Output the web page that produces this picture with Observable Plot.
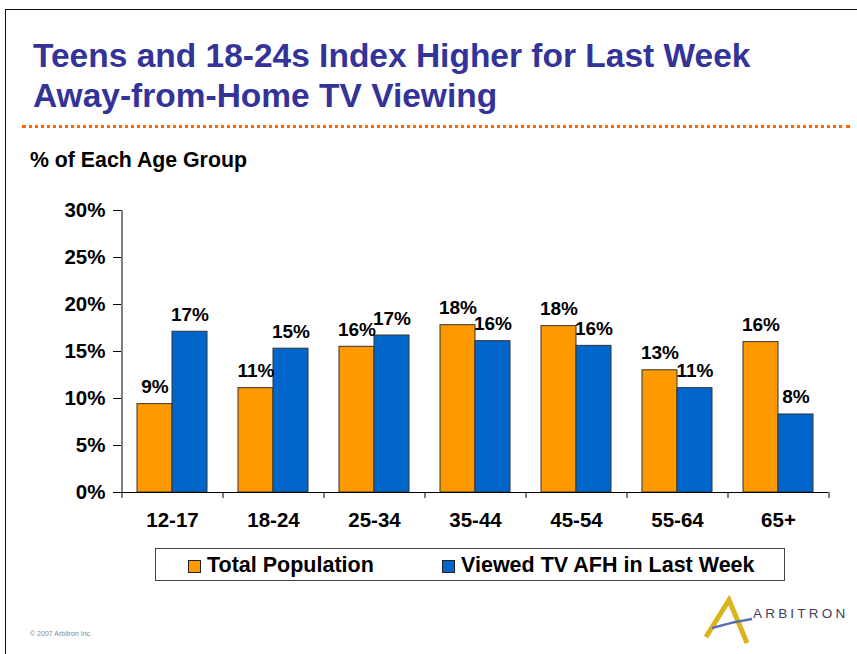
<!DOCTYPE html>
<html>
<head>
<meta charset="utf-8">
<script src="https://cdn.jsdelivr.net/npm/d3@7"></script>
<script src="https://cdn.jsdelivr.net/npm/@observablehq/plot@0.6"></script>
<style>
  html, body { margin: 0; padding: 0; background: #fff; }
  body { width: 857px; height: 654px; position: relative; overflow: hidden; font-family: "Liberation Sans", Arial, sans-serif; }
  .abs { position: absolute; white-space: nowrap; }
  #frame { left: 5px; top: 9px; width: 900px; height: 700px; border-top: 1.5px solid #111; border-left: 1.5px solid #111; }
  .title { left: 33px; font-size: 33.5px; font-weight: bold; color: #333399; line-height: 1; }
  #dots { left: 22px; top: 125px; width: 828px; height: 0; border-top: 3px dotted #ff6600; }
  #subtitle { left: 30px; top: 148px; font-size: 21.3px; font-weight: bold; color: #000; }
  #chart { left: 0; top: 190px; }
  #legend { left: 155px; top: 548px; width: 628px; height: 31px; border: 1px solid #444; }
  .sw { position: absolute; top: 11px; width: 11px; height: 11px; border: 1px solid #222; }
  .lt { position: absolute; top: 4px; font-size: 21.5px; font-weight: bold; color: #000; }
  #copy { left: 30px; top: 630px; font-size: 7px; color: #888; }
  #logo { left: 700px; top: 595px; }
</style>
</head>
<body>
<div id="frame" class="abs"></div>
<div class="abs title" style="top:39px">Teens and 18-24s Index Higher for Last Week</div>
<div class="abs title" style="top:79px">Away-from-Home TV Viewing</div>
<div id="dots" class="abs"></div>
<div id="subtitle" class="abs">% of Each Age Group</div>
<div id="chart" class="abs"></div>
<div id="legend" class="abs"></div>
<div id="copy" class="abs">© 2007 Arbitron Inc.</div>
<svg id="logo" class="abs" width="157" height="55" viewBox="0 0 157 55">
  <path d="M6 42 L29 5 L47 48" fill="none" stroke="#d9b41c" stroke-width="5" stroke-linejoin="miter"/>
  <path d="M12 33 C25 29 38 26 52 24" fill="none" stroke="#5a6fb0" stroke-width="2.5"/>
  <text x="53" y="23" font-family="Liberation Sans, Arial, sans-serif" font-size="13.5" letter-spacing="3.2" fill="#3f4060">ARBITRON</text>
</svg>
<script>
// ---- data ----
const categories = ["12-17", "18-24", "25-34", "35-44", "45-54", "55-64", "65+"];
const totalPopulation = [9.4, 11.1, 15.5, 17.8, 17.7, 13.0, 16.0];
const viewedAFH = [17.1, 15.3, 16.7, 16.1, 15.6, 11.1, 8.3];
const totalLabels = ["9%", "11%", "16%", "18%", "18%", "13%", "16%"];
const viewedLabels = ["17%", "15%", "17%", "16%", "16%", "11%", "8%"];
const yTicks = [0, 5, 10, 15, 20, 25, 30];
const seriesNames = ["Total Population", "Viewed TV AFH in Last Week"];
const seriesColors = ["#ff9900", "#0066cc"];

const rows = categories.map((c, i) => ({
  cat: c, total: totalPopulation[i], viewed: viewedAFH[i],
  tl: totalLabels[i], vl: viewedLabels[i]
}));

const W = 857, H = 350, mL = 121, mR = 29;
const step = (W - mL - mR) / categories.length;
const half = step / 2;
const bw = step * 0.693;
const barHalf = bw / 2;
const tickLen = 6 / ((H - 20 - 48) / 30); // 6px in data units

const plot = Plot.plot({
  width: W, height: H,
  marginLeft: mL, marginRight: mR, marginTop: 20, marginBottom: 48,
  style: { fontFamily: "Liberation Sans, Arial, sans-serif", fontWeight: "bold", fontSize: "20.5px", color: "#000", background: "transparent", overflow: "visible" },
  x: { type: "band", domain: categories, paddingInner: 0.307, paddingOuter: 0.153, label: null },
  y: { domain: [0, 30], label: null },
  marks: [
    Plot.barY(rows, { x: "cat", y: "total", insetRight: barHalf, fill: seriesColors[0], stroke: "#333", strokeWidth: 1 }),
    Plot.barY(rows, { x: "cat", y: "viewed", insetLeft: barHalf, fill: seriesColors[1], stroke: "#333", strokeWidth: 1 }),
    Plot.text(rows, { x: "cat", y: "total", text: "tl", dx: -barHalf / 2, dy: -11, lineAnchor: "bottom", fontSize: 19, fontWeight: "bold", fill: "#000" }),
    Plot.text(rows, { x: "cat", y: "viewed", text: "vl", dx: barHalf / 2, dy: -11, lineAnchor: "bottom", fontSize: 19, fontWeight: "bold", fill: "#000" }),
    // axis lines
    Plot.ruleY([0], { stroke: "#000", strokeWidth: 1 }),
    Plot.ruleX([categories[0]], { x: d => d, dx: -half, y1: 0, y2: 30, stroke: "#000", strokeWidth: 1 }),
    // x ticks at category boundaries
    Plot.ruleX(categories, { x: d => d, dx: -half, y1: 0, y2: -tickLen, stroke: "#000" }),
    Plot.ruleX([categories[categories.length - 1]], { x: d => d, dx: half, y1: 0, y2: -tickLen, stroke: "#000" }),
    Plot.axisY({ ticks: yTicks, tickFormat: d => d + "%", tickSize: 8, tickPadding: 8, fontSize: 20.5, fontWeight: "bold", stroke: "#000" }),
    Plot.axisX({ tickSize: 0, tickPadding: 20, fontSize: 20.5, fontWeight: "bold" })
  ]
});
document.getElementById("chart").appendChild(plot);

// legend
const lg = document.getElementById("legend");
const swX = [32, 286];
seriesNames.forEach((n, i) => {
  const s = document.createElement("div");
  s.className = "sw"; s.style.left = swX[i] + "px"; s.style.background = seriesColors[i];
  lg.appendChild(s);
  const t = document.createElement("div");
  t.className = "lt"; t.style.left = (swX[i] + 19) + "px"; t.textContent = n;
  lg.appendChild(t);
});
</script>
</body>
</html>
